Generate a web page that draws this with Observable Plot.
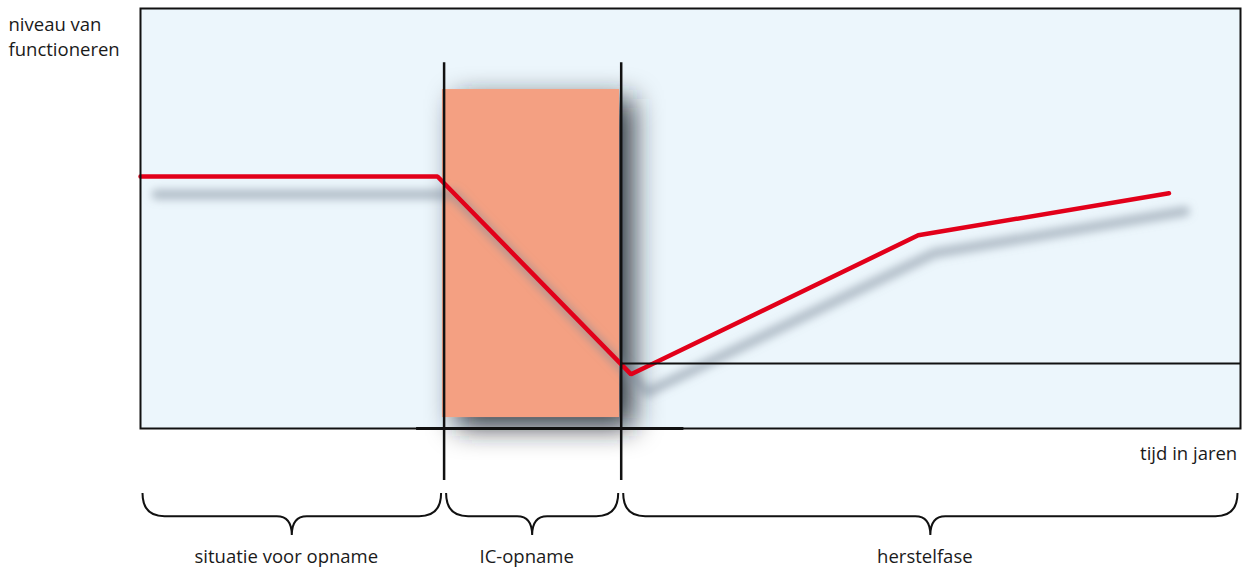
<!DOCTYPE html>
<html>
<head>
<meta charset="utf-8">
<script src="https://cdn.jsdelivr.net/npm/d3@7"></script>
<script src="https://cdn.jsdelivr.net/npm/@observablehq/plot@0.6"></script>
<style>
  html, body { margin: 0; padding: 0; background: white; }
  svg { overflow: visible; }
</style>
</head>
<body>
<div id="chart"></div>
<script>
// ---- data (conceptual units: time 0..100, level 0..100) ----
const phaseNames = ["situatie voor opname", "IC-opname", "herstelfase"];
const phaseBounds = [0, 27.6, 43.7, 100];          // admission start / discharge
const lineTime  = [0, 27.0, 44.6, 70.7, 93.5];
const lineLevel = [60, 60, 12.9, 46, 56];
const thresholdLevel = 15.5;
const icBox = [{x1: 27.45, x2: 43.55, y1: 2.6, y2: 80.7}];
const ruleTop = 87.1, ruleBottom = -12.4;
const baseSegment = {x1: 25.1, x2: 49.4};
const yTitle = "niveau van\nfunctioneren";
const xTitle = "tijd in jaren";

const pts = lineTime.map((t, i) => ({t, v: lineLevel[i]}));
const phases = phaseNames.map((name, i) => ({name, a: phaseBounds[i], b: phaseBounds[i + 1]}));

function braces(index, scales) {
  const {x, y} = scales;
  const g = d3.create("svg:g").attr("fill", "none").attr("stroke", "#111").attr("stroke-width", 2);
  const yTop = y(-15.5), yMid = y(-21), yTip = y(-25.5);
  for (const p of phases) {
    const x0 = x(p.a) + 2.5, x1 = x(p.b) - 2.5, xm = (x0 + x1) / 2;
    const r = 22, rt = 15;
    const d = `M${x0},${yTop} Q${x0},${yMid} ${x0 + r},${yMid} L${xm - rt},${yMid} Q${xm},${yMid} ${xm},${yTip} Q${xm},${yMid} ${xm + rt},${yMid} L${x1 - r},${yMid} Q${x1},${yMid} ${x1},${yTop}`;
    g.append("path").attr("d", d);
  }
  return g.node();
}

const FS = 18.5;
const chart = Plot.plot({
  width: 1243,
  height: 574,
  marginLeft: 140,
  marginRight: 3,
  marginTop: 8,
  marginBottom: 146,
  x: {domain: [0, 100], axis: null},
  y: {domain: [0, 100], axis: null},
  style: {fontFamily: "'Open Sans', sans-serif", fontSize: FS + "px", background: "white", overflow: "visible"},
  marks: [
    Plot.frame({fill: "#ecf6fc", stroke: "none"}),
    Plot.rect(icBox, {x1: "x1", x2: "x2", y1: "y1", y2: "y2", fill: "#1f262c", fillOpacity: 0.9, dx: 14, dy: 10, ariaDescription: "rect-shadow"}),
    Plot.rect(icBox, {x1: "x1", x2: "x2", y1: "y1", y2: "y2", fill: "#f4a082"}),
    Plot.line(pts, {x: "t", y: "v", stroke: "#7f8d9a", strokeWidth: 10, strokeOpacity: 0.55, dx: 16, dy: 18, ariaDescription: "line-shadow"}),
    Plot.line(pts, {x: "t", y: "v", stroke: "#e2001a", strokeWidth: 4.5, strokeLinejoin: "miter"}),
    Plot.ruleY([thresholdLevel], {x1: phaseBounds[2], x2: 100, stroke: "#111", strokeWidth: 2}),
    Plot.ruleX(phaseBounds.slice(1, 3), {y1: ruleTop, y2: ruleBottom, stroke: "#111", strokeWidth: 2.5}),
    Plot.frame({stroke: "#111", strokeWidth: 2}),
    Plot.ruleY([0], {x1: baseSegment.x1, x2: baseSegment.x2, stroke: "#111", strokeWidth: 3}),
    braces,
    Plot.text(phases, {x: d => (d.a + d.b) / 2, y: -30.5, dx: -6, text: "name", fontSize: FS, fill: "#1a1a1a"}),
    Plot.text([xTitle], {x: 99.7, y: -6.2, text: d => d, textAnchor: "end", fontSize: FS, fill: "#1a1a1a"}),
    Plot.text([yTitle], {x: -12, y: 93.67, text: d => d, textAnchor: "start", lineHeight: 25 / FS, fontSize: FS, fill: "#1a1a1a"})
  ]
});

const svg = d3.select(chart);
const defs = svg.insert("defs", ":first-child");
defs.append("filter").attr("id", "blurRect")
  .attr("x", "-60%").attr("y", "-60%").attr("width", "220%").attr("height", "220%")
  .append("feGaussianBlur").attr("stdDeviation", 14);
defs.append("filter").attr("id", "blurLine")
  .attr("x", "-20%").attr("y", "-30%").attr("width", "140%").attr("height", "160%")
  .append("feGaussianBlur").attr("stdDeviation", 4.5);
svg.selectAll('[aria-description="rect-shadow"]').attr("filter", "url(#blurRect)");
svg.selectAll('[aria-description="line-shadow"]').attr("filter", "url(#blurLine)");

document.getElementById("chart").appendChild(chart);
</script>
</body>
</html>
